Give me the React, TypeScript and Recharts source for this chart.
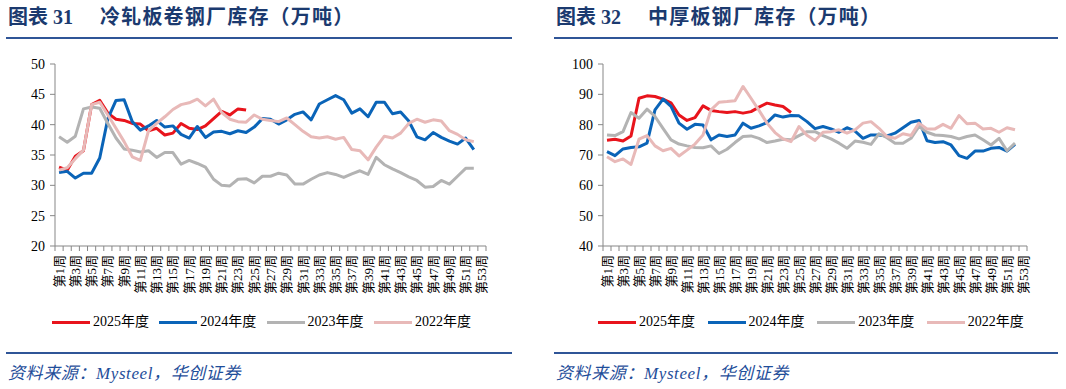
import React from 'react';
import { LineChart, Line, XAxis, YAxis } from 'recharts';

// categories / legend
const weeks = Array.from({ length: 53 }, (_, i) => `第${i + 1}周`);
const seriesNames = ['2025年度', '2024年度', '2023年度', '2022年度'];
const seriesColors = ['#E8141C', '#0A64B8', '#B3B3B3', '#E8B9B8'];

// 冷轧板卷钢厂库存
const coldTicks = [20, 25, 30, 35, 40, 45, 50];
const cold2025 = [33.0, 32.5, 34.8, 35.7, 43.3, 44.0, 41.9, 40.9, 40.7, 40.2, 40.1, 39.0, 39.4, 38.3, 38.6, 40.2, 39.4, 39.2, 39.8, 41.0, 42.2, 41.6, 42.6, 42.4];
const cold2024 = [32.1, 32.3, 31.2, 32.0, 32.0, 34.5, 41.0, 44.0, 44.1, 40.5, 39.1, 39.8, 40.7, 39.6, 39.8, 38.4, 37.8, 39.7, 37.9, 38.8, 38.9, 38.5, 39.0, 38.7, 39.6, 41.0, 40.9, 40.1, 40.8, 41.7, 42.1, 40.8, 43.4, 44.1, 44.8, 44.1, 41.9, 42.6, 41.3, 43.7, 43.7, 41.8, 42.1, 40.6, 38.0, 37.5, 38.7, 37.9, 37.3, 36.8, 37.8, 35.9];
const cold2023 = [38.0, 37.1, 38.1, 42.6, 42.9, 42.7, 40.2, 37.8, 36.0, 35.8, 35.5, 35.7, 34.6, 35.4, 35.4, 33.5, 34.1, 33.6, 33.0, 31.0, 30.0, 29.9, 31.0, 31.1, 30.4, 31.5, 31.5, 32.0, 31.7, 30.2, 30.2, 31.0, 31.7, 32.1, 31.8, 31.3, 31.9, 32.4, 31.8, 34.6, 33.4, 32.7, 32.1, 31.4, 30.8, 29.7, 29.8, 30.8, 30.2, 31.5, 32.8, 32.8];
const cold2022 = [32.5, 32.9, 34.4, 35.8, 43.3, 43.7, 41.6, 39.4, 37.2, 34.7, 34.1, 39.0, 40.2, 41.3, 42.5, 43.3, 43.6, 44.2, 43.1, 44.2, 42.0, 40.9, 40.5, 40.4, 41.6, 40.9, 40.7, 40.5, 41.1, 40.0, 38.9, 38.0, 37.8, 38.0, 37.6, 37.9, 35.9, 35.7, 34.2, 36.3, 38.1, 37.8, 38.6, 40.2, 40.9, 40.4, 40.8, 40.6, 39.0, 38.4, 37.5, 37.2];

// 中厚板钢厂库存
const plateTicks = [40, 50, 60, 70, 80, 90, 100];
const plate2025 = [74.9, 75.2, 74.6, 76.3, 88.7, 89.5, 89.3, 88.4, 87.2, 83.2, 81.4, 82.3, 86.2, 84.7, 84.3, 84.0, 84.3, 83.8, 84.3, 85.8, 87.1, 86.5, 86.0, 84.0];
const plate2024 = [71.1, 69.8, 72.0, 72.5, 72.7, 73.9, 84.9, 88.4, 86.0, 80.5, 78.5, 80.1, 79.9, 75.0, 76.6, 76.1, 76.6, 80.5, 78.8, 79.6, 80.7, 83.2, 82.5, 83.0, 82.9, 81.0, 78.7, 79.4, 78.6, 77.5, 79.0, 77.9, 75.5, 76.6, 76.6, 76.3, 77.2, 79.0, 80.8, 81.4, 74.7, 74.1, 74.4, 73.3, 69.8, 68.9, 71.3, 71.3, 72.2, 72.5, 71.3, 73.5];
const plate2023 = [76.6, 76.4, 77.7, 84.0, 82.1, 85.1, 82.7, 78.8, 75.0, 73.6, 73.0, 72.5, 72.4, 73.0, 70.5, 71.9, 74.1, 76.1, 76.3, 75.5, 74.1, 74.6, 75.2, 75.0, 76.4, 77.7, 77.7, 76.4, 75.3, 73.9, 72.2, 74.6, 74.2, 73.5, 77.0, 75.7, 73.9, 73.9, 75.5, 79.4, 77.5, 76.6, 76.4, 76.1, 75.3, 76.1, 76.6, 75.0, 73.3, 75.5, 71.4, 73.9];
const plate2022 = [69.4, 67.8, 68.7, 66.9, 75.2, 76.4, 73.0, 71.4, 72.2, 69.7, 71.6, 73.6, 76.6, 84.9, 87.4, 87.6, 87.9, 92.6, 88.7, 84.7, 80.5, 77.4, 75.3, 74.4, 79.4, 76.5, 74.8, 77.5, 77.7, 78.3, 77.2, 78.3, 80.5, 81.0, 78.8, 76.1, 75.5, 77.0, 76.4, 80.5, 78.6, 78.6, 80.1, 78.8, 83.0, 80.3, 80.5, 78.6, 78.8, 77.5, 79.0, 78.3];

const SERIF = '"Liberation Serif", "Times New Roman", "Noto Sans CJK SC", serif';
const NAVY = '#1B3A6F';
const RULE = '#2F5597';
const AXIS = '#878787';

const CHART_W = 520;
const CHART_H = 300;
const TOP = 64;
const X_AXIS_H = 54;
const Y_AXIS_W = 40;
const LEFT_M = 15;
const PLOT_BOTTOM = CHART_H - X_AXIS_H;

function buildRows(series: number[][]) {
  return weeks.map((week, i) => {
    const row: Record<string, any> = { week };
    series.forEach((s, k) => {
      row[seriesNames[k]] = i < s.length ? s[i] : null;
    });
    return row;
  });
}

function WeekTick(props: any) {
  const { x, payload, band } = props;
  const idx = payload?.index ?? props.index ?? 0;
  const ty = PLOT_BOTTOM + 9;
  return (
    <g>
      <line x1={x - band / 2} y1={PLOT_BOTTOM} x2={x - band / 2} y2={PLOT_BOTTOM + 5} stroke={AXIS} />
      {idx === weeks.length - 1 && (
        <line x1={x + band / 2} y1={PLOT_BOTTOM} x2={x + band / 2} y2={PLOT_BOTTOM + 5} stroke={AXIS} />
      )}
      {idx % 2 === 0 && (
        <text
          x={x}
          y={ty}
          transform={`rotate(-90, ${x}, ${ty})`}
          textAnchor="end"
          dominantBaseline="central"
          fontSize={13}
          fontFamily={SERIF}
          fill="#000"
        >
          {payload.value}
        </text>
      )}
    </g>
  );
}

interface PanelProps {
  left: number;
  ruleRight: number;
  num: string;
  title: string;
  series: number[][];
  ticks: number[];
  rightM: number;
  legendLeft: number;
  legendStep: number;
}

function Panel({ left, ruleRight, num, title, series, ticks, rightM, legendLeft, legendStep }: PanelProps) {
  const rows = buildRows(series);
  const band = (CHART_W - LEFT_M - Y_AXIS_W - rightM) / weeks.length;
  const textBase: React.CSSProperties = { position: 'absolute', whiteSpace: 'nowrap' };
  return (
    <div style={{ position: 'absolute', left: 0, top: 0 }}>
      <div style={{ ...textBase, left: left + 8, top: 7, fontSize: 20, lineHeight: '20px', fontWeight: 700, color: NAVY, fontFamily: SERIF }}>
        图表 {num}
      </div>
      <div style={{ ...textBase, left: left + 100, top: 7, fontSize: 20, lineHeight: '20px', fontWeight: 700, color: NAVY, fontFamily: SERIF, letterSpacing: 1.2 }}>
        {title}
      </div>
      <div style={{ position: 'absolute', left: left + 6, top: 37, width: ruleRight - left - 6, height: 2, background: RULE }} />

      <div style={{ position: 'absolute', left, top: 0 }}>
        <LineChart width={CHART_W} height={CHART_H} data={rows} margin={{ top: TOP, right: rightM, bottom: 0, left: LEFT_M }}>
          <XAxis
            dataKey="week"
            scale="band"
            interval={0}
            height={X_AXIS_H}
            axisLine={{ stroke: AXIS }}
            tickLine={false}
            tickSize={5}
            tickMargin={4}
            tick={(p: any) => <WeekTick {...p} band={band} />}
          />
          <YAxis
            width={Y_AXIS_W}
            domain={[ticks[0], ticks[ticks.length - 1]]}
            ticks={ticks}
            interval={0}
            axisLine={{ stroke: AXIS }}
            tickLine={{ stroke: AXIS }}
            tickSize={5}
            tickMargin={5}
            tick={{ fontSize: 14, fill: '#000', fontFamily: SERIF }}
          />
          {seriesNames.map((name, k) => (
            <Line
              key={name}
              dataKey={name}
              type="linear"
              stroke={seriesColors[k]}
              strokeWidth={3}
              dot={false}
              activeDot={false}
              connectNulls={false}
              strokeLinejoin="round"
              isAnimationActive={false}
            />
          ))}
        </LineChart>
      </div>

      {seriesNames.map((name, k) => (
        <div key={name} style={{ position: 'absolute', left: left + legendLeft + k * legendStep, top: 312, height: 20 }}>
          <div style={{ position: 'absolute', left: 0, top: 9, width: 38, height: 3, background: seriesColors[k] }} />
          <div style={{ ...textBase, left: 41, top: 0, fontSize: 14, lineHeight: '20px', fontFamily: SERIF, color: '#000' }}>{name}</div>
        </div>
      ))}

      <div style={{ position: 'absolute', left: left + 6, top: 352, width: ruleRight - left - 6, height: 2, background: RULE }} />
      <div style={{ ...textBase, left: left + 8, top: 364, fontSize: 17, lineHeight: '20px', fontStyle: 'italic', color: '#1F4E9A', fontFamily: SERIF, letterSpacing: 0.6 }}>
        资料来源：Mysteel，华创证券
      </div>
    </div>
  );
}

export default function App() {
  return (
    <div style={{ position: 'fixed', left: 0, top: 0, width: 1066, height: 389, background: '#fff', overflow: 'hidden' }}>
      <Panel
        left={0}
        ruleRight={512}
        num="31"
        title="冷轧板卷钢厂库存（万吨）"
        series={[cold2025, cold2024, cold2023, cold2022]}
        ticks={coldTicks}
        rightM={34}
        legendLeft={52}
        legendStep={107.3}
      />
      <Panel
        left={548}
        ruleRight={1058}
        num="32"
        title="中厚板钢厂库存（万吨）"
        series={[plate2025, plate2024, plate2023, plate2022]}
        ticks={plateTicks}
        rightM={41}
        legendLeft={50}
        legendStep={109.6}
      />
    </div>
  );
}
